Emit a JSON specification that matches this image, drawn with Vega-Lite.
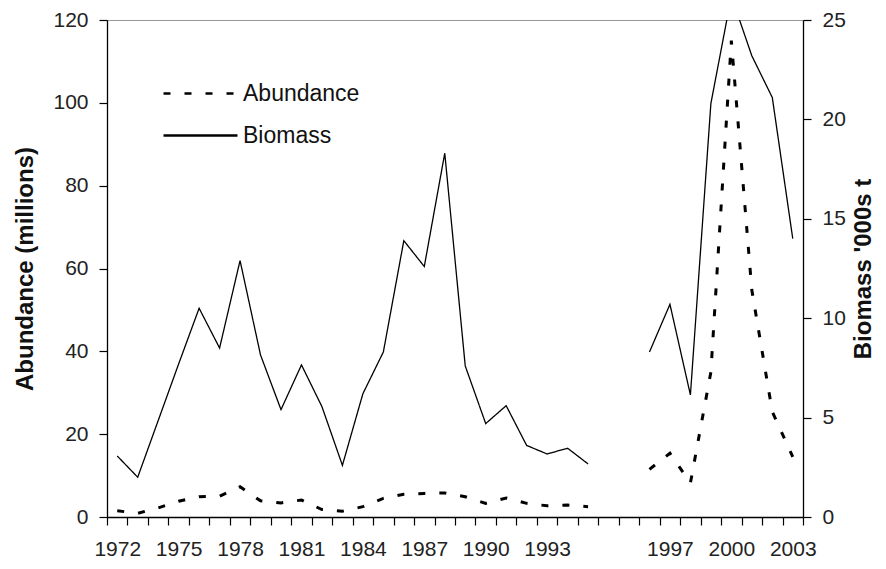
{
  "$schema": "https://vega.github.io/schema/vega-lite/v6.json",
  "width": 696,
  "height": 497,
  "autosize": {"type": "none"},
  "padding": {"left": 107, "top": 20, "right": 83, "bottom": 52},
  "background": "white",
  "config": {
    "view": {"stroke": "#999999", "strokeWidth": 1},
    "font": "Liberation Sans",
    "axis": {
      "grid": false,
      "domainColor": "#000000",
      "domainWidth": 1.3,
      "tickColor": "#000000",
      "tickWidth": 1.2,
      "tickSize": 8,
      "labelFont": "Liberation Sans",
      "labelFontSize": 21,
      "labelColor": "#222222",
      "titleFont": "Liberation Sans",
      "titleFontSize": 24,
      "titleFontWeight": "bold",
      "titleColor": "#111111"
    }
  },
  "data": {
    "values": [
      {"year": "1972", "abundance": 1.5, "biomass": 3.07, "seg": "a"},
      {"year": "1973", "abundance": 0.9, "biomass": 2.0, "seg": "a"},
      {"year": "1974", "abundance": 2.2, "biomass": 4.85, "seg": "a"},
      {"year": "1975", "abundance": 3.8, "biomass": 7.7, "seg": "a"},
      {"year": "1976", "abundance": 4.9, "biomass": 10.5, "seg": "a"},
      {"year": "1977", "abundance": 5.0, "biomass": 8.5, "seg": "a"},
      {"year": "1978", "abundance": 7.3, "biomass": 12.9, "seg": "a"},
      {"year": "1979", "abundance": 3.9, "biomass": 8.15, "seg": "a"},
      {"year": "1980", "abundance": 3.4, "biomass": 5.4, "seg": "a"},
      {"year": "1981", "abundance": 4.1, "biomass": 7.65, "seg": "a"},
      {"year": "1982", "abundance": 1.8, "biomass": 5.55, "seg": "a"},
      {"year": "1983", "abundance": 1.4, "biomass": 2.6, "seg": "a"},
      {"year": "1984", "abundance": 2.5, "biomass": 6.2, "seg": "a"},
      {"year": "1985", "abundance": 4.5, "biomass": 8.3, "seg": "a"},
      {"year": "1986", "abundance": 5.5, "biomass": 13.9, "seg": "a"},
      {"year": "1987", "abundance": 5.7, "biomass": 12.6, "seg": "a"},
      {"year": "1988", "abundance": 5.8, "biomass": 18.3, "seg": "a"},
      {"year": "1989", "abundance": 4.9, "biomass": 7.6, "seg": "a"},
      {"year": "1990", "abundance": 3.3, "biomass": 4.7, "seg": "a"},
      {"year": "1991", "abundance": 4.6, "biomass": 5.6, "seg": "a"},
      {"year": "1992", "abundance": 3.3, "biomass": 3.6, "seg": "a"},
      {"year": "1993", "abundance": 2.7, "biomass": 3.17, "seg": "a"},
      {"year": "1994", "abundance": 2.9, "biomass": 3.46, "seg": "a"},
      {"year": "1995", "abundance": 2.5, "biomass": 2.67, "seg": "a"},
      {"year": "1996", "abundance": 11.5, "biomass": 8.3, "seg": "b"},
      {"year": "1997", "abundance": 15.4, "biomass": 10.7, "seg": "b"},
      {"year": "1998", "abundance": 8.2, "biomass": 6.14, "seg": "b"},
      {"year": "1999", "abundance": 35, "biomass": 20.8, "seg": "b"},
      {"year": "2000", "abundance": 115, "biomass": 26.2, "seg": "b"},
      {"year": "2001", "abundance": 54.8, "biomass": 23.2, "seg": "b"},
      {"year": "2002", "abundance": 25.4, "biomass": 21.1, "seg": "b"},
      {"year": "2003", "abundance": 14.5, "biomass": 14.0, "seg": "b"}
    ]
  },
  "encoding": {
    "x": {
      "field": "year",
      "type": "ordinal",
      "scale": {
        "type": "band",
        "domain": ["1972","1973","1974","1975","1976","1977","1978","1979","1980","1981","1982","1983","1984","1985","1986","1987","1988","1989","1990","1991","1992","1993","1994","1995","gap1","gap2","1996","1997","1998","1999","2000","2001","2002","2003"],
        "paddingInner": 0,
        "paddingOuter": 0
      },
      "axis": {
        "title": null,
        "tickBand": "extent",
        "labelAngle": 0,
        "labelPadding": 13,
        "labelOverlap": false,
        "labelFlush": false,
        "labelExpr": "indexof(['1972','1975','1978','1981','1984','1987','1990','1993','1997','2000','2003'], datum.value) >= 0 ? datum.value : ''"
      }
    }
  },
  "layer": [
    {
      "mark": {"type": "line", "strokeWidth": 3, "color": "#000000", "clip": true},
      "encoding": {
        "y": {
          "field": "abundance",
          "type": "quantitative",
          "scale": {"domain": [0, 120], "nice": false},
          "axis": {
            "orient": "left",
            "title": "Abundance (millions)",
            "values": [0, 20, 40, 60, 80, 100, 120],
            "labelPadding": 11,
            "titlePadding": 15
          }
        },
        "detail": {"field": "seg", "type": "nominal"},
        "strokeDash": {
          "datum": "Abundance",
          "type": "nominal",
          "scale": {"domain": ["Abundance", "Biomass"], "range": [[7, 14], [1, 0]]},
          "legend": {
            "title": null,
            "orient": "none",
            "legendX": 82,
            "legendY": 62,
            "padding": 0,
            "symbolType": "M-4.11,0H4.11",
            "symbolSize": 324,
            "symbolStrokeWidth": 2.5,
            "symbolStrokeColor": "#000000",
            "symbolFillColor": "transparent",
            "labelFont": "Liberation Sans",
            "labelFontSize": 23,
            "labelColor": "#111111",
            "labelOffset": 31,
            "rowPadding": 18
          }
        }
      }
    },
    {
      "mark": {"type": "line", "strokeWidth": 1.3, "color": "#000000", "clip": true},
      "encoding": {
        "y": {
          "field": "biomass",
          "type": "quantitative",
          "scale": {"domain": [0, 25], "nice": false},
          "axis": {
            "orient": "right",
            "title": "Biomass '000s t",
            "values": [0, 5, 10, 15, 20, 25],
            "labelPadding": 11,
            "titlePadding": 30,
            "titleAngle": 270
          }
        },
        "detail": {"field": "seg", "type": "nominal"},
        "strokeDash": {"datum": "Biomass", "type": "nominal"}
      }
    }
  ],
  "resolve": {"scale": {"y": "independent"}}
}
